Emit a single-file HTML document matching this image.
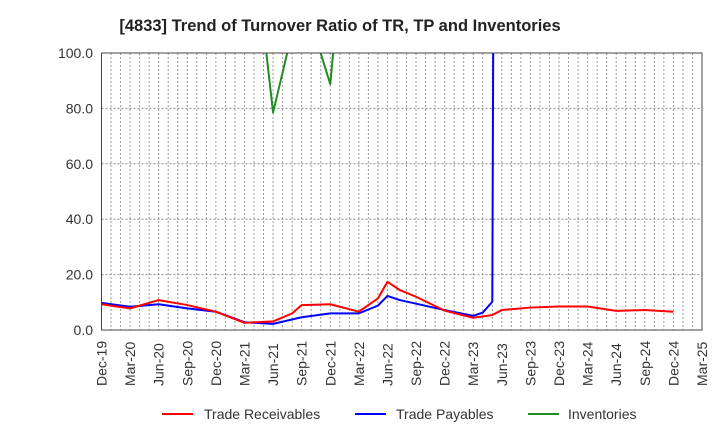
<!DOCTYPE html>
<html><head><meta charset="utf-8"><style>
body{margin:0;background:#fff;}
svg{font-family:"Liberation Sans",sans-serif;display:block}
</style></head><body>
<svg id="c" width="720" height="440">
<text x="340" y="31" text-anchor="middle" font-size="16.5" font-weight="bold" fill="#222">[4833]  Trend of Turnover Ratio of TR, TP and Inventories</text>
<defs><clipPath id="pc"><rect x="101.5" y="53" width="600.5" height="277"/></clipPath></defs>
<g id="grid"></g>
<g id="series" clip-path="url(#pc)"></g>
<rect x="101.5" y="53" width="600.5" height="277" fill="none" stroke="#444" stroke-width="1"/>
<g id="axes"></g>
<g>
<line x1="162" y1="414" x2="193" y2="414" stroke="#f00" stroke-width="2"/>
<text x="204" y="419" font-size="14" fill="#333">Trade Receivables</text>
<line x1="355" y1="414" x2="386" y2="414" stroke="#00f" stroke-width="2"/>
<text x="396" y="419" font-size="14" fill="#333">Trade Payables</text>
<line x1="528" y1="414" x2="559" y2="414" stroke="#228b22" stroke-width="2"/>
<text x="568" y="419" font-size="14" fill="#333">Inventories</text>
</g>
</svg>
<script>
const xLabels=["Dec-19","Mar-20","Jun-20","Sep-20","Dec-20","Mar-21","Jun-21","Sep-21","Dec-21","Mar-22","Jun-22","Sep-22","Dec-22","Mar-23","Jun-23","Sep-23","Dec-23","Mar-24","Jun-24","Sep-24","Dec-24","Mar-25"];
const yTicks=[0,20,40,60,80,100];
const trMonths=[0,3,6,9,12,15,18,20,21,24,27,29,30,31.3,33,36,39,41,42,45,48,51,54,57,60];
const trValues=[9.3,7.8,10.8,9.0,6.6,2.6,3.1,6.0,9.0,9.3,6.6,11.4,17.4,14.4,12.0,7.0,4.4,5.4,7.2,8.1,8.5,8.5,6.9,7.2,6.6];
const tpMonths=[0,3,6,9,12,15,18,21,24,27,29,30,31.3,33,36,39,40,41,41.3];
const tpValues=[9.8,8.4,9.3,7.8,6.6,2.8,2.2,4.6,6.0,6.0,8.8,12.3,10.8,9.5,7.2,5.1,6.3,10.2,300];
const invMonths=[15,18,21,24,27];
const invValues=[170,78.5,122,88.8,200];
const NS="http://www.w3.org/2000/svg";
const X0=101.5,X1=702,Y0=330,Y1=53,NM=63;
function xs(m){return X0+(X1-X0)*m/NM;}
function ys(v){return Y0-(Y0-Y1)*v/100;}
function mk(t,a,p){const e=document.createElementNS(NS,t);for(const k in a)e.setAttribute(k,a[k]);p.appendChild(e);return e;}
const g=document.getElementById('grid'),ax=document.getElementById('axes'),s=document.getElementById('series');
for(let m=1;m<NM;m++){const l=mk('line',{x1:xs(m),x2:xs(m),y1:Y1,y2:Y0,stroke:'#999','stroke-dasharray':'2,2','stroke-width':1},g);

}
yTicks.forEach(v=>{if(v>0&&v<100){const l=mk('line',{x1:X0,x2:X1,y1:ys(v),y2:ys(v),stroke:'#888','stroke-dasharray':'2,2','stroke-width':1},g);

}
const t=mk('text',{x:93,y:ys(v)+5,'text-anchor':'end','font-size':14,fill:'#333'},ax);t.textContent=v.toFixed(1);

});
xLabels.forEach((lb,i)=>{const x=xs(i*3);const t=mk('text',{x:0,y:0,transform:`translate(${x+5},386) rotate(-90)`,'font-size':14,fill:'#333'},ax);t.textContent=lb;

});
function line(ms,vs,col,name){const p=mk('polyline',{points:ms.map((m,i)=>xs(m)+','+ys(vs[i])).join(' '),fill:'none',stroke:col,'stroke-width':2,'stroke-linejoin':'round'},s);

}
line(invMonths,invValues,'#228b22','inventories-line');
line(tpMonths,tpValues,'#00f','trade-payables-line');
line(trMonths,trValues,'#f00','trade-receivables-line');
</script>
</body></html>
